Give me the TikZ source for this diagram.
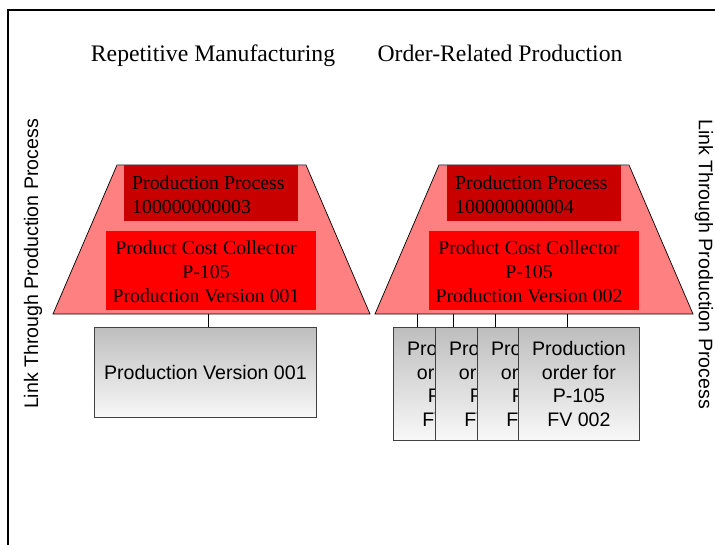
\documentclass[tikz,border=0pt]{standalone}
\usepackage{fontspec}
\setmainfont{Liberation Serif}
\setsansfont{Liberation Sans}
\definecolor{trapfill}{HTML}{FF8080}
\definecolor{procred}{HTML}{C80000}
\definecolor{ccred}{HTML}{FF0000}
\definecolor{boxedge}{HTML}{404040}
\definecolor{gradtop}{HTML}{BEBEBE}
\definecolor{gradbot}{HTML}{F8F8F8}
\begin{document}
\begin{tikzpicture}[x=1pt,y=-1pt,
  serif/.style={font=\fontsize{19.8}{24}\selectfont},
  titletext/.style={font=\fontsize{23.7}{28}\selectfont, anchor=base, inner sep=0pt},
  sans/.style={font=\sffamily\fontsize{19.6}{23.5}\selectfont},
  trap/.style={fill=trapfill, draw=black, line width=0.7pt},
  procbox/.style={fill=procred, draw=none, anchor=north west, inner sep=0pt, minimum width=174pt, minimum height=56pt},
  ccbox/.style={fill=ccred, draw=none, anchor=north west, inner sep=0pt, minimum width=210pt, minimum height=79pt},
  graybox/.style={draw=boxedge, line width=0.8pt, top color=gradtop, bottom color=gradbot, anchor=north west, inner sep=0pt, sans, align=center},
  orderbox/.style={graybox, minimum width=121pt, minimum height=113pt},
  conn/.style={draw=black, line width=0.7pt}
]
\useasboundingbox (0,0) rectangle (715,544);
% frame
\draw[line width=2pt] (8,560) -- (8,10) -- (730,10);
% titles
\node[titletext] (t1) at (213,61) {Repetitive Manufacturing};
\node[titletext] (t2) at (500,61) {Order-Related Production};
% side labels
\node[sans, rotate=90] (lk1) at (33,264) {Link Through Production Process};
\node[sans, rotate=-90] (lk2) at (704,264) {Link Through Production Process};
% trapezoids
\draw[trap] (53,314) -- (117,165) -- (306,165) -- (370,314) -- cycle;
\draw[gray, line width=1pt] (117,165) -- (306,165);
\draw[trap] (375,314) -- (439,165) -- (629,165) -- (693,314) -- cycle;
\draw[gray, line width=1pt] (439,165) -- (629,165);
% production process boxes
\node[procbox] (pp1) at (124,165) {};
\node[serif, anchor=west, align=left, inner sep=0pt] (pp1t) at (132,194.5) {Production Process\\100000000003};
\node[procbox] (pp2) at (447,165) {};
\node[serif, anchor=west, align=left, inner sep=0pt] (pp2t) at (455,194.5) {Production Process\\100000000004};
% cost collector boxes
\node[ccbox] (cc1) at (106,231) {};
\node[serif, align=center, inner sep=0pt] (cc1t) at (206,272) {Product Cost Collector\\P-105\\Production Version 001};
\node[ccbox] (cc2) at (429,231) {};
\node[serif, align=center, inner sep=0pt] (cc2t) at (529,272) {Product Cost Collector\\P-105\\Production Version 002};
% connector anchors on trapezoid bottoms
\coordinate (c0) at (208,314);
\coordinate (c1) at (417,314);
\coordinate (c2) at (453,314);
\coordinate (c3) at (495,314);
\coordinate (c4) at (567,314);
% production version box
\node[graybox, minimum width=222pt, minimum height=90pt] (pv1) at (94,327) {Production Version 001};
% order boxes
\node[orderbox] (o1) at (393,327) {Production\\order for\\P-105\\FV 002};
\node[orderbox] (o2) at (435,327) {Production\\order for\\P-105\\FV 002};
\node[orderbox] (o3) at (477,327) {Production\\order for\\P-105\\FV 002};
\node[orderbox] (o4) at (518,327) {Production\\order for\\P-105\\FV 002};
% connectors
\draw[conn] (c0) -- (c0 |- pv1.north);
\draw[conn] (c1) -- (c1 |- o1.north);
\draw[conn] (c2) -- (c2 |- o2.north);
\draw[conn] (c3) -- (c3 |- o3.north);
\draw[conn] (c4) -- (c4 |- o4.north);
\end{tikzpicture}
\end{document}
